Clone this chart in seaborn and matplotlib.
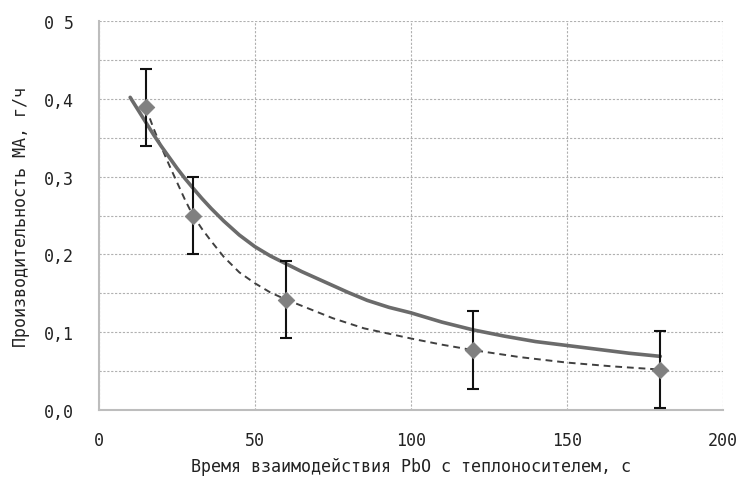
import matplotlib
matplotlib.use("Agg")

import matplotlib.pyplot as plt
import seaborn as sns
import pandas as pd

# experimental points (diamonds) with error bars
exp_time = [15, 30, 60, 120, 180]
exp_rate = [0.389, 0.250, 0.142, 0.077, 0.052]
exp_err = [0.05, 0.05, 0.05, 0.05, 0.05]

dash_time = [15, 17.5, 20, 22.5, 25, 27.5, 30, 33, 36, 40, 45, 50, 55, 60,
             67.5, 75, 85, 100, 110, 120, 135, 150, 165, 180]
dash_rate = [0.389, 0.362, 0.338, 0.315, 0.293, 0.271, 0.251, 0.233, 0.217, 0.197,
             0.177, 0.163, 0.151, 0.142, 0.130, 0.118, 0.105, 0.092, 0.084, 0.077,
             0.068, 0.061, 0.056, 0.052]

# solid model curve
model_time = [10, 12.5, 15, 17.5, 20, 22.5, 25, 27.5, 30, 33, 36, 40, 45, 50, 55,
              60, 65, 70, 75, 80, 86, 93, 100, 110, 120, 130, 140, 150, 160, 170, 180]
model_rate = [0.402, 0.386, 0.370, 0.354, 0.339, 0.325, 0.311, 0.298, 0.286, 0.272,
              0.259, 0.243, 0.225, 0.210, 0.198, 0.188, 0.178, 0.169, 0.160, 0.151,
              0.141, 0.132, 0.125, 0.113, 0.103, 0.095, 0.088, 0.083, 0.078, 0.073,
              0.069]

y_ticks = [0.0, 0.1, 0.2, 0.3, 0.4, 0.5]
y_labels = ["0,0", "0,1", "0,2", "0,3", "0,4", "0 5"]
x_ticks = [0, 50, 100, 150, 200]

sns.set_style("white")
plt.rcParams["font.family"] = ["DejaVu Sans Mono", "DejaVu Sans"]

fig = plt.figure(figsize=(7.46, 4.81), dpi=100)
ax = fig.add_axes([0.1327, 0.1455, 0.836, 0.8085])

model_df = pd.DataFrame({"t": model_time, "r": model_rate})
dash_df = pd.DataFrame({"t": dash_time, "r": dash_rate})
exp_df = pd.DataFrame({"t": exp_time, "r": exp_rate})

sns.lineplot(data=dash_df, x="t", y="r", ax=ax, color="#404040",
             linewidth=1.4, linestyle=(0, (3.5, 2.5)), sort=False, zorder=3)
sns.lineplot(data=model_df, x="t", y="r", ax=ax, color="#6b6b6b",
             linewidth=2.6, sort=False, zorder=4)
ax.errorbar(exp_time, exp_rate, yerr=exp_err, fmt="none", ecolor="#111111",
            elinewidth=1.5, capsize=4, capthick=1.5, zorder=5)
sns.scatterplot(data=exp_df, x="t", y="r", ax=ax, marker="D", s=70,
                color="#808080", edgecolor="#808080", zorder=6)

ax.set_xlim(0, 200)
ax.set_ylim(0, 0.5)
ax.set_xticks(x_ticks)
ax.set_xticklabels([str(v) for v in x_ticks])
ax.set_yticks(y_ticks)
ax.set_yticklabels(y_labels)
ax.set_yticks([0.05, 0.15, 0.25, 0.35, 0.45], minor=True)

ax.grid(True, which="both", color="#b0b0b0", linestyle=(0, (2, 1.5)), linewidth=0.8)
ax.set_axisbelow(True)

for side in ["top", "right"]:
    ax.spines[side].set_visible(False)
for side in ["left", "bottom"]:
    ax.spines[side].set_color("#bdbdbd")
    ax.spines[side].set_linewidth(1.5)

ax.tick_params(axis="both", which="both", direction="out", length=5,
               color="#bdbdbd", width=1, labelsize=12, labelcolor="#222222")
ax.tick_params(axis="y", which="both", pad=13)
ax.tick_params(axis="x", which="both", pad=10)

ax.set_xlabel("Время взаимодействия PbO с теплоносителем, с", fontsize=12,
              color="#222222", labelpad=6)
ax.set_ylabel("Производительность МА, г/ч", fontsize=12, color="#222222",
              labelpad=10)

plt.savefig("out.png", dpi=100)
plt.close()
